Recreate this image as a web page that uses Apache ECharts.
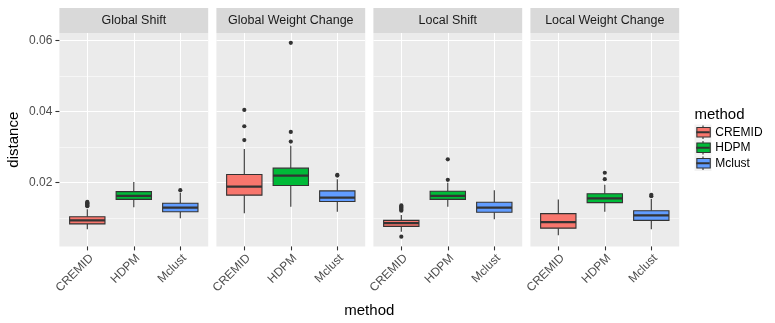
<!DOCTYPE html>
<html>
<head>
<meta charset="utf-8">
<script src="https://cdn.jsdelivr.net/npm/echarts@6/dist/echarts.min.js"></script>
<style>html,body{margin:0;padding:0;background:#fff;}#c{width:775px;height:323px;}</style>
</head>
<body>
<div id="c"></div>
<script>
// ---- data ----
const panelNames = ['Global Shift', 'Global Weight Change', 'Local Shift', 'Local Weight Change'];
const methods = ['CREMID', 'HDPM', 'Mclust'];
const methodColors = ['#F8766D', '#00BA38', '#619CFF'];
const yTicks = [0.02, 0.04, 0.06];
const yMinorTicks = [0.01, 0.03, 0.05];
const yTickLabels = ['0.02', '0.04', '0.06'];

// [lower whisker, Q1, median, Q3, upper whisker] per method
const globalShiftStats = [
  [0.0069, 0.0084, 0.0094, 0.0104, 0.0125],
  [0.0131, 0.0153, 0.0163, 0.0175, 0.0202],
  [0.0100, 0.0118, 0.0130, 0.0142, 0.0172]
];
const globalShiftOutliers = [
  [0.0134, 0.0136, 0.0138, 0.0140, 0.0142, 0.0144, 0.0146],
  [],
  [0.0179]
];
const globalWeightStats = [
  [0.0114, 0.0165, 0.0189, 0.0223, 0.0295],
  [0.0132, 0.0192, 0.0220, 0.0241, 0.0304],
  [0.0118, 0.0147, 0.0158, 0.0177, 0.0210]
];
const globalWeightOutliers = [
  [0.0320, 0.0359, 0.0405],
  [0.0316, 0.0343, 0.0594],
  [0.0220, 0.0222]
];
const localShiftStats = [
  [0.0062, 0.0077, 0.0086, 0.0094, 0.0109],
  [0.0132, 0.0153, 0.0163, 0.0176, 0.0200],
  [0.0097, 0.0117, 0.0130, 0.0145, 0.0179]
];
const localShiftOutliers = [
  [0.0048, 0.0121, 0.0124, 0.0127, 0.0130, 0.0133, 0.0136],
  [0.0208, 0.0266],
  []
];
const localWeightStats = [
  [0.0052, 0.0072, 0.0089, 0.0113, 0.0153],
  [0.0118, 0.0144, 0.0156, 0.0169, 0.0194],
  [0.0069, 0.0094, 0.0108, 0.0121, 0.0154]
];
const localWeightOutliers = [
  [],
  [0.0210, 0.0228],
  [0.0162, 0.0166]
];
const panelStats = [globalShiftStats, globalWeightStats, localShiftStats, localWeightStats];
const panelOutliers = [globalShiftOutliers, globalWeightOutliers, localShiftOutliers, localWeightOutliers];

// ---- layout ----
const FONT = 'Liberation Sans, Arial, Helvetica, sans-serif';
const GRID_LEFT0 = 59.4, GRID_STEP = 157, GRID_W = 148.8, GRID_TOP = 33, GRID_H = 213.4;
const Y_MIN = 0.00206, Y_MAX = 0.06217;
const BOX_WIDTH = 0.76;
const LABEL_SHIFT = 0.09;
const LINE = '#333333';

function renderBox(params, api) {
  const x = api.value(0);
  const lo = api.coord([x, api.value(1)]);
  const q1 = api.coord([x, api.value(2)]);
  const md = api.coord([x, api.value(3)]);
  const q3 = api.coord([x, api.value(4)]);
  const hi = api.coord([x, api.value(5)]);
  const half = api.size([BOX_WIDTH, 0])[0] / 2;
  const color = api.visual('color');
  return {
    type: 'group',
    children: [
      { type: 'line', shape: { x1: hi[0], y1: hi[1], x2: q3[0], y2: q3[1] }, style: { stroke: LINE, lineWidth: 1.1 } },
      { type: 'line', shape: { x1: q1[0], y1: q1[1], x2: lo[0], y2: lo[1] }, style: { stroke: LINE, lineWidth: 1.1 } },
      { type: 'rect', shape: { x: q3[0] - half, y: q3[1], width: half * 2, height: q1[1] - q3[1] }, style: { fill: color, stroke: LINE, lineWidth: 1.1 } },
      { type: 'line', shape: { x1: md[0] - half, y1: md[1], x2: md[0] + half, y2: md[1] }, style: { stroke: LINE, lineWidth: 2.2 } }
    ]
  };
}

const grids = [], xAxes = [], yAxes = [], series = [], graphics = [];
panelNames.forEach((name, p) => {
  const left = GRID_LEFT0 + p * GRID_STEP;
  grids.push({ left: left, top: GRID_TOP, width: GRID_W, height: GRID_H, show: true, backgroundColor: '#EBEBEB', borderWidth: 0 });
  xAxes.push({
    type: 'value', gridIndex: p, min: 0.4, max: 3.6,
    axisLine: { show: false },
    axisTick: { show: true, length: 4, lineStyle: { color: LINE, width: 1.1 }, customValues: [1, 2, 3] },
    axisLabel: {
      show: true, rotate: 45, margin: 10, color: '#4D4D4D', fontSize: 12, fontFamily: FONT,
      customValues: [1 + LABEL_SHIFT, 2 + LABEL_SHIFT, 3 + LABEL_SHIFT],
      formatter: v => methods[Math.round(v) - 1]
    },
    splitLine: { show: true, lineStyle: { color: '#FFFFFF', width: 1.1 } }
  });
  yAxes.push({
    type: 'value', gridIndex: p, min: Y_MIN, max: Y_MAX,
    axisLine: { show: false },
    axisTick: { show: p === 0, length: 4, lineStyle: { color: LINE, width: 1.1 }, customValues: yTicks },
    axisLabel: {
      show: p === 0, margin: 7, color: '#4D4D4D', fontSize: 12, fontFamily: FONT,
      customValues: yTicks,
      formatter: v => yTickLabels[yTicks.findIndex(t => Math.abs(t - v) < 1e-9)]
    },
    splitLine: { show: true, lineStyle: { color: '#FFFFFF', width: 1.1 } }
  });
  yAxes.push({
    type: 'value', gridIndex: p, min: Y_MIN, max: Y_MAX, position: 'left',
    axisLine: { show: false },
    axisTick: { show: false, customValues: yMinorTicks },
    axisLabel: { show: false, customValues: yMinorTicks },
    splitLine: { show: true, lineStyle: { color: '#FFFFFF', width: 0.55 } }
  });
  methods.forEach((m, i) => {
    series.push({
      type: 'custom', name: m, xAxisIndex: p, yAxisIndex: p * 2,
      itemStyle: { color: methodColors[i] },
      encode: { x: 0, y: [1, 2, 3, 4, 5] },
      renderItem: renderBox,
      data: [[i + 1].concat(panelStats[p][i])],
      silent: true, z: 3
    });
  });
  const pts = [];
  panelOutliers[p].forEach((arr, i) => arr.forEach(v => pts.push([i + 1, v])));
  series.push({
    type: 'scatter', name: 'outliers', xAxisIndex: p, yAxisIndex: p * 2,
    symbol: 'circle', symbolSize: 4.2, itemStyle: { color: LINE, opacity: 1 },
    data: pts, silent: true, z: 4
  });
  // strip
  graphics.push({ type: 'rect', shape: { x: left, y: 8, width: GRID_W, height: 25 }, style: { fill: '#D9D9D9' }, z: 1 });
  graphics.push({ type: 'text', x: left + GRID_W / 2, y: 20.5, style: { text: name, fill: '#1A1A1A', font: '12.5px ' + FONT, textAlign: 'center', textVerticalAlign: 'middle' }, z: 2 });
});

// titles
graphics.push({ type: 'text', x: 369.3, y: 311, style: { text: 'method', fill: '#000000', font: '15px ' + FONT, textAlign: 'center', textVerticalAlign: 'middle' }, z: 2 });
graphics.push({ type: 'text', x: 14, y: 139.7, rotation: Math.PI / 2, style: { text: 'distance', fill: '#000000', font: '15px ' + FONT, textAlign: 'center', textVerticalAlign: 'middle' }, z: 2 });
// legend title and key decorations
graphics.push({ type: 'text', x: 694.5, y: 115, style: { text: 'method', fill: '#000000', font: '15px ' + FONT, textAlign: 'left', textVerticalAlign: 'middle' }, z: 2 });
const LEG_TOP = 124.5, LEG_ROW = 15.5, KEY_CX = 703;
methods.forEach((m, i) => {
  const yc = LEG_TOP + LEG_ROW / 2 + i * LEG_ROW;
  graphics.push({ type: 'rect', shape: { x: 694.5, y: yc - LEG_ROW / 2, width: 17, height: LEG_ROW }, style: { fill: '#F2F2F2' }, z: 1 });
  graphics.push({ type: 'line', shape: { x1: KEY_CX, y1: yc - LEG_ROW / 2 + 1, x2: KEY_CX, y2: yc + LEG_ROW / 2 - 1 }, style: { stroke: LINE, lineWidth: 1.1 }, z: 2 });
  graphics.push({ type: 'line', shape: { x1: 696.3, y1: yc, x2: 709.7, y2: yc }, style: { stroke: LINE, lineWidth: 2 }, z: 20 });
});

const chart = echarts.init(document.getElementById('c'), null, { renderer: 'canvas' });
chart.setOption({
  animation: false,
  backgroundColor: '#FFFFFF',
  grid: grids,
  xAxis: xAxes,
  yAxis: yAxes,
  series: series,
  legend: {
    data: methods, orient: 'vertical', left: 696.3, top: LEG_TOP, padding: 0,
    icon: 'rect', itemWidth: 13.4, itemHeight: 9.6, itemGap: 0,
    itemStyle: { borderColor: LINE, borderWidth: 1.1 },
    textStyle: { color: '#000000', fontSize: 12, fontFamily: FONT, lineHeight: LEG_ROW },
    selectedMode: false, z: 10
  },
  graphic: { elements: graphics }
});
</script>
</body>
</html>
